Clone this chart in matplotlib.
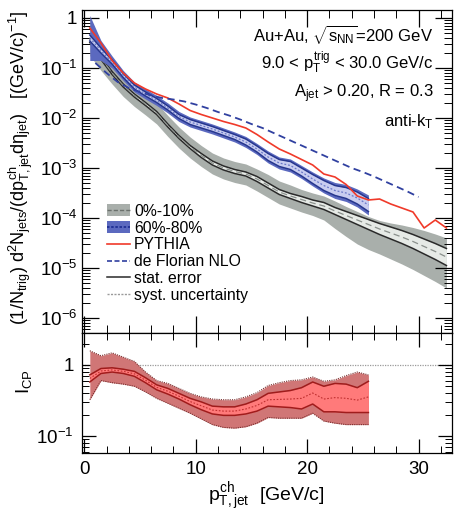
import numpy as np
import matplotlib
matplotlib.use("Agg")
import matplotlib.pyplot as plt
from matplotlib.ticker import LogLocator, MultipleLocator, NullFormatter, FixedLocator, FixedFormatter
from matplotlib.patches import Rectangle
from matplotlib.lines import Line2D

plt.rcParams['font.family'] = ['Liberation Sans', 'DejaVu Sans']
plt.rcParams['mathtext.fontset'] = 'custom'
plt.rcParams['mathtext.rm'] = 'Liberation Sans'
plt.rcParams['mathtext.it'] = 'Liberation Sans'
plt.rcParams['mathtext.bf'] = 'Liberation Sans:bold'

# ---------------- data (log10 of yields) ----------------
x_c = [0.5, 1.5, 2.5, 3.5, 4.5, 5.5, 6.5, 7.5, 8.5, 9.5, 10.5, 11.5, 12.5, 13.5, 14.5,
       15.5, 16.5, 17.5, 18.5, 19.5, 20.5, 21.5, 22.5, 23.5, 24.5, 25.5, 26.5, 27.5,
       28.5, 29.5, 30.5, 31.5, 32.5]
# 0%-10% central
c010 = [-0.45, -0.8, -1.1, -1.35, -1.55, -1.72, -1.9, -2.15, -2.38, -2.58, -2.75, -2.9,
        -3.0, -3.07, -3.12, -3.22, -3.35, -3.48, -3.56, -3.63, -3.7, -3.76, -3.86, -3.95,
        -4.04, -4.13, -4.22, -4.3, -4.38, -4.47, -4.57, -4.67, -4.78]
c010_stat = [0.04, 0.03, 0.03, 0.03, 0.03, 0.03, 0.03, 0.03, 0.03, 0.03, 0.04, 0.04,
             0.04, 0.04, 0.04, 0.05, 0.05, 0.05, 0.05, 0.06, 0.06, 0.07, 0.07, 0.08,
             0.09, 0.1, 0.11, 0.12, 0.13, 0.14, 0.15, 0.16, 0.17]
c010_sys_up = [0.46, 0.3, 0.22, 0.2, 0.2, 0.2, 0.2, 0.2, 0.2, 0.2, 0.2, 0.2, 0.2, 0.2,
               0.2, 0.2, 0.22, 0.22, 0.22, 0.2, 0.2, 0.2, 0.2, 0.18, 0.17, 0.16, 0.17,
               0.2, 0.24, 0.28, 0.32, 0.35, 0.38]
c010_sys_dn = [0.3, 0.25, 0.22, 0.22, 0.22, 0.22, 0.22, 0.22, 0.22, 0.22, 0.22, 0.22,
               0.22, 0.22, 0.22, 0.24, 0.24, 0.24, 0.24, 0.25, 0.25, 0.28, 0.35, 0.42,
               0.48, 0.5, 0.5, 0.52, 0.54, 0.56, 0.58, 0.6, 0.62]

x_p = x_c[:26]
# 60%-80% central
c6080 = [-0.4, -0.65, -0.88, -1.15, -1.38, -1.52, -1.65, -1.8, -1.97, -2.08, -2.15,
         -2.22, -2.3, -2.38, -2.48, -2.62, -2.78, -2.9, -2.95, -3.08, -3.22, -3.35,
         -3.45, -3.5, -3.6, -3.74]
c6080_stat = [0.06, 0.05, 0.04, 0.04, 0.04, 0.04, 0.04, 0.04, 0.04, 0.05, 0.05, 0.05,
              0.05, 0.05, 0.06, 0.06, 0.07, 0.07, 0.08, 0.08, 0.09, 0.1, 0.1, 0.11,
              0.12, 0.13]
c6080_sys = [0.45, 0.2, 0.12, 0.1, 0.1, 0.1, 0.1, 0.1, 0.1, 0.1, 0.1, 0.1, 0.1, 0.1,
             0.11, 0.11, 0.12, 0.12, 0.13, 0.13, 0.14, 0.15, 0.16, 0.17, 0.18, 0.2]

# PYTHIA
pythia = [-0.2, -0.5, -0.85, -1.1, -1.3, -1.42, -1.52, -1.6, -1.72, -1.85, -1.93, -2.0,
          -2.07, -2.13, -2.2, -2.33, -2.48, -2.62, -2.72, -2.83, -2.94, -3.12, -3.18,
          -3.33, -3.56, -3.64, -3.62, -3.72, -3.8, -3.88, -4.2, -4.04, -4.2]

# de Florian NLO
x_nlo = [1, 2, 3, 4, 5, 6, 7, 8, 9, 10, 11, 12, 13, 14, 15, 16, 17, 18, 19, 20, 21, 22,
         23, 24, 25, 26, 27, 28, 29, 30]
nlo = [-0.9, -1.1, -1.28, -1.4, -1.48, -1.55, -1.6, -1.63, -1.67, -1.73, -1.8, -1.88,
       -1.95, -2.03, -2.12, -2.2, -2.3, -2.4, -2.5, -2.6, -2.7, -2.8, -2.9, -3.0, -3.08,
       -3.17, -3.27, -3.37, -3.47, -3.58]

# I_CP (log10)
icp_stat_up = [-0.14, -0.05, -0.04, -0.06, -0.09, -0.18, -0.28, -0.33, -0.4, -0.47,
               -0.52, -0.58, -0.59, -0.59, -0.55, -0.49, -0.4, -0.38, -0.36, -0.32,
               -0.24, -0.3, -0.26, -0.27, -0.32, -0.23]
icp_stat_dn = [-0.24, -0.12, -0.1, -0.12, -0.16, -0.25, -0.35, -0.41, -0.48, -0.56,
               -0.63, -0.69, -0.71, -0.71, -0.69, -0.65, -0.58, -0.59, -0.6, -0.62,
               -0.55, -0.66, -0.66, -0.67, -0.67, -0.67]
icp_sys_up = [0.2, 0.13, 0.17, 0.11, 0.05, -0.1, -0.22, -0.26, -0.33, -0.4, -0.45,
              -0.48, -0.49, -0.49, -0.45, -0.39, -0.29, -0.25, -0.22, -0.21, -0.17,
              -0.23, -0.21, -0.15, -0.1, -0.14]
icp_sys_dn = [-0.49, -0.22, -0.25, -0.27, -0.3, -0.38, -0.47, -0.54, -0.61, -0.68,
              -0.76, -0.84, -0.88, -0.89, -0.87, -0.82, -0.74, -0.75, -0.75, -0.75,
              -0.68, -0.79, -0.82, -0.84, -0.84, -0.84]

x_ticks = [0, 10, 20, 30]

# ---------------- figure ----------------
W, H = 458, 532
fig = plt.figure(figsize=(W / 100, H / 100), dpi=100)
L, R = 82 / W, 452 / W
ax = fig.add_axes([L, 1 - 333 / H, R - L, (333 - 10) / H])
ax2 = fig.add_axes([L, 1 - 453 / H, R - L, (453 - 333) / H])

p = lambda a: 10 ** np.asarray(a, dtype=float)
xc = np.array(x_c)
xp = np.array(x_p)

# 0-10 %
c = np.array(c010)
ax.fill_between(xc, p(c + np.array(c010_sys_up)), p(c - np.array(c010_sys_dn)),
                color='#a9afab', lw=0, zorder=1)
ax.fill_between(xc, p(c + np.array(c010_stat)), p(c - np.array(c010_stat)),
                color='#e6eae6', lw=0, zorder=2)
ax.plot(xc, p(c + np.array(c010_stat)), color='#2a2a2a', lw=1.1, zorder=3)
ax.plot(xc, p(c - np.array(c010_stat)), color='#2a2a2a', lw=1.1, zorder=3)
ax.plot(xc, p(c), color='#8a908c', lw=0.9, ls=(0, (5, 3)), zorder=3)

# 60-80 %
b = np.array(c6080)
ax.fill_between(xp, p(b + np.array(c6080_sys)), p(b - np.array(c6080_sys)),
                color='#5b69bf', lw=0, zorder=4)
ax.fill_between(xp, p(b + np.array(c6080_stat)), p(b - np.array(c6080_stat)),
                color='#c9cdf0', lw=0, zorder=5)
ax.plot(xp, p(b + np.array(c6080_stat)), color='#26368e', lw=1.1, zorder=6)
ax.plot(xp, p(b - np.array(c6080_stat)), color='#26368e', lw=1.1, zorder=6)
ax.plot(xp, p(b), color='#6a78c8', lw=0.9, ls=(0, (1.5, 1.5)), zorder=6)

# PYTHIA
ax.plot(xc, p(pythia), color='#f03a2a', lw=1.2, zorder=7)
# NLO
ax.plot(x_nlo, p(nlo), color='#3040a0', lw=1.3, ls=(0, (4, 2.5)), zorder=7)

ax.set_yscale('log')
ax.set_xlim(-0.2, 33)
ax.set_ylim(10 ** -6.3, 10 ** 0.16)

# legend (manual handles)
leg_handles = [
    (Rectangle((0, 0), 1, 1, fc='#a9afab', ec='none'), Line2D([], [], color='#6a706c', ls=(0, (3, 1.5)), lw=1.0)),
    (Rectangle((0, 0), 1, 1, fc='#5b69bf', ec='none'), Line2D([], [], color='#1a2a90', ls=(0, (1.5, 1)), lw=1.2)),
    Line2D([], [], color='#f03a2a', lw=1.2),
    Line2D([], [], color='#3040a0', lw=1.2, ls=(0, (3, 1.5))),
    Line2D([], [], color='#2a2a2a', lw=1.1),
    Line2D([], [], color='#9a9a9a', lw=1.0, ls=(0, (1.5, 1))),
]
leg_labels = ['0%-10%', '60%-80%', 'PYTHIA', 'de Florian NLO', 'stat. error', 'syst. uncertainty']
ax.legend(leg_handles, leg_labels, loc='upper left', bbox_to_anchor=(0.05, 0.42),
          frameon=False, fontsize=11.3, handlelength=1.5, handletextpad=0.25,
          labelspacing=0.12, borderaxespad=0, handleheight=0.8)

tk = dict(direction='in', top=True, right=True, labelsize=13.5)
ax.tick_params(which='major', length=12, width=0.9, **tk)
ax.tick_params(which='minor', length=6, width=0.7, direction='in', top=True, right=True)
ax.xaxis.set_major_locator(FixedLocator(x_ticks))
ax.xaxis.set_minor_locator(MultipleLocator(2))
ax.tick_params(axis='x', labelbottom=False)
ax.yaxis.set_minor_locator(LogLocator(base=10, subs=np.arange(2, 10), numticks=20))
ax.yaxis.set_minor_formatter(NullFormatter())
ylab_pos = [1e-6, 1e-5, 1e-4, 1e-3, 1e-2, 1e-1, 1]
ax.yaxis.set_major_locator(FixedLocator(ylab_pos))
ax.yaxis.set_major_formatter(FixedFormatter([r'$10^{-6}$', r'$10^{-5}$', r'$10^{-4}$',
                                             r'$10^{-3}$', r'$10^{-2}$', r'$10^{-1}$', '1']))
for s in ax.spines.values():
    s.set_linewidth(0.9)

# annotations
tx = dict(transform=ax.transAxes, ha='right', va='center', fontsize=12)
ax.text(0.95, 0.925, r'Au+Au, $\sqrt{s_{\mathrm{NN}}}$=200 GeV', **tx)
ax.text(0.95, 0.835, r'9.0 < $p_{\mathrm{T}}^{\mathrm{trig}}$ < 30.0 GeV/c', **tx)
ax.text(0.95, 0.74, r'$A_{\mathrm{jet}}$ > 0.20, R = 0.3', **tx)
ax.text(0.95, 0.655, r'anti-$k_{\mathrm{T}}$', **tx)

# y label
fig.text(21 / W, 1 - 168 / H,
         r'$(1/N_{\mathrm{trig}})\ \mathrm{d}^{2}N_{\mathrm{jets}}/(\mathrm{d}p_{\mathrm{T,jet}}^{\mathrm{ch}}\mathrm{d}\eta_{\mathrm{jet}})$   [(GeV/c)$^{-1}$]',
         rotation=90, ha='center', va='center', fontsize=13)

# ---------------- ICP panel ----------------
su, sd = np.array(icp_sys_up), np.array(icp_sys_dn)
tu, td = np.array(icp_stat_up), np.array(icp_stat_dn)
mid = 0.5 * (tu + td)
ax2.axhline(1, color='#9a9a9a', lw=0.9, ls=(0, (1, 1)), zorder=1)
ax2.fill_between(xp, p(su), p(sd), color='#d07676', lw=0, zorder=2)
ax2.plot(xp, p(su), color='#7a3030', lw=0.8, ls=(0, (1, 1)), zorder=3)
ax2.plot(xp, p(sd), color='#7a3030', lw=0.8, ls=(0, (1, 1)), zorder=3)
ax2.fill_between(xp, p(tu), p(td), color='#ff7a7a', lw=0, zorder=3)
ax2.plot(xp, p(tu), color='#a01c1c', lw=1.1, zorder=4)
ax2.plot(xp, p(td), color='#a01c1c', lw=1.1, zorder=4)
ax2.plot(xp, p(mid), color='#c03030', lw=0.8, ls=(0, (1.5, 1.5)), zorder=4)

ax2.set_yscale('log')
ax2.set_xlim(-0.2, 33)
ax2.set_ylim(10 ** -1.24, 10 ** 0.45)
ax2.tick_params(which='major', length=10, width=0.9, pad=6, **tk)
ax2.tick_params(which='minor', length=5, width=0.7, direction='in', top=True, right=True)
ax2.xaxis.set_major_locator(FixedLocator(x_ticks))
ax2.xaxis.set_minor_locator(MultipleLocator(2))
ax2.yaxis.set_major_locator(FixedLocator([0.1, 1]))
ax2.yaxis.set_major_formatter(FixedFormatter([r'$10^{-1}$', '1']))
ax2.yaxis.set_minor_locator(LogLocator(base=10, subs=np.arange(2, 10), numticks=20))
ax2.yaxis.set_minor_formatter(NullFormatter())
for s in ax2.spines.values():
    s.set_linewidth(0.9)

fig.text(24 / W, 1 - 382 / H, r'$I_{\mathrm{CP}}$', rotation=90, ha='center', va='center', fontsize=13.5)
fig.text(266 / W, 1 - 497 / H, r'$p_{\mathrm{T,jet}}^{\mathrm{ch}}$  [GeV/c]', ha='center', va='center', fontsize=14)

fig.savefig('out.png', dpi=100)
